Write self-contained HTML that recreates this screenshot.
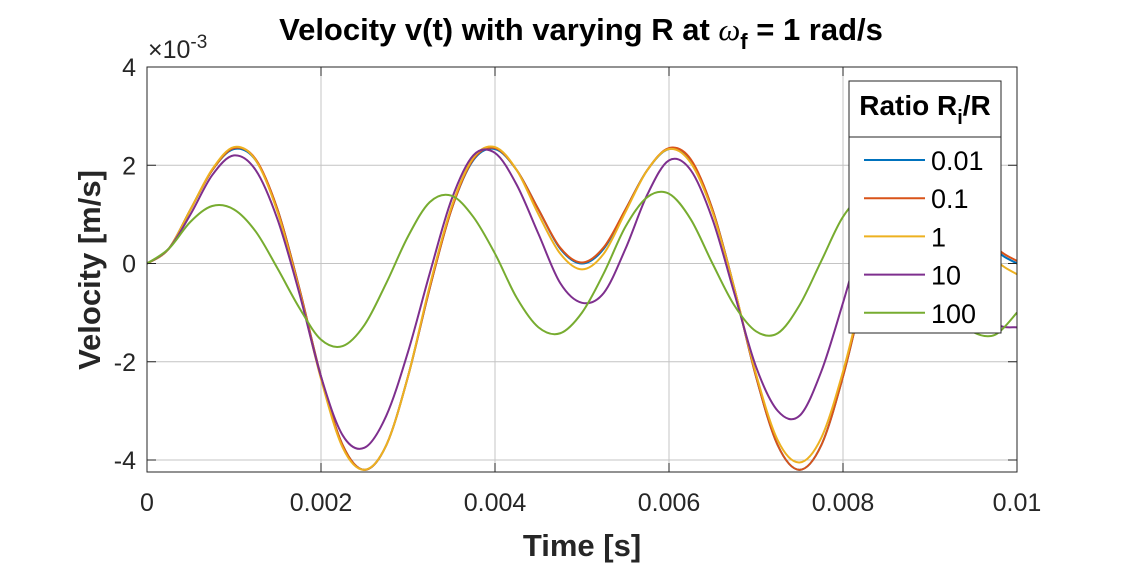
<!DOCTYPE html>
<html><head><meta charset="utf-8"><style>
body{margin:0;background:#fff;}
svg text{font-family:"Liberation Sans",Arial,sans-serif;}
</style></head><body>
<svg id="chart" width="1125" height="563" xmlns="http://www.w3.org/2000/svg">
<rect width="1125" height="563" fill="#fff"/>
<g id="grid"></g>
<g id="series"></g>
<rect x="147" y="67" width="870" height="405" fill="none" stroke="#262626" stroke-width="1"/>
<g id="ticks"></g>
<text x="581" y="40" text-anchor="middle" font-size="31" font-weight="bold" fill="#000">Velocity v(t) with varying R at <tspan font-style="italic" font-weight="normal" font-family="Liberation Serif">ω</tspan><tspan font-size="22" dy="9">f</tspan><tspan dy="-9"> = 1 rad/s</tspan></text>
<text x="148" y="58" font-size="25" fill="#262626">×10<tspan font-size="19" dy="-10">-3</tspan></text>
<text x="582" y="556" text-anchor="middle" font-size="31" font-weight="bold" fill="#262626">Time [s]</text>
<text transform="translate(100,270) rotate(-90)" text-anchor="middle" font-size="31" font-weight="bold" fill="#262626">Velocity [m/s]</text>
<g>
<rect x="849" y="81" width="152" height="252" fill="#fff" stroke="#262626" stroke-width="1"/>
<line x1="849" y1="137" x2="1001" y2="137" stroke="#262626" stroke-width="1"/>
<text x="925" y="115" text-anchor="middle" font-size="28" font-weight="bold" fill="#000">Ratio R<tspan font-size="20" dy="9">i</tspan><tspan dy="-9">/R</tspan></text>
<g id="legend-entries"></g>
</g>
</svg>
<script>
const times=[0,.00025,.0005,.00075,.001,.00125,.0015,.00175,.002,.00225,.0025,.00275,.003,.00325,.0035,.00375,.004,.00425,.0045,.00475,.005,.00525,.0055,.00575,.006,.00625,.0065,.00675,.007,.00725,.0075,.00775,.008,.00825,.0085,.00875,.009,.00925,.0095,.00975,.01];
const labels=["0.01","0.1","1","10","100"];
const colors=["#0072BD","#D95319","#EDB120","#7E2F8E","#77AC30"];
const v001=[0,0.3,1.1,1.9,2.33,2.1,1.1,-0.5,-2.3,-3.7,-4.2,-3.7,-2.3,-0.5,1.1,2.1,2.33,1.9,1.1,0.3,0,0.3,1.1,1.9,2.33,2.1,1.1,-0.5,-2.3,-3.7,-4.2,-3.7,-2.3,-0.5,1.1,2.1,2.33,1.9,1.1,0.3,0];
const v01=[0,0.3,1.1,1.9,2.35,2.12,1.1,-0.5,-2.3,-3.7,-4.2,-3.7,-2.3,-0.5,1.1,2.12,2.35,1.9,1.1,0.32,0.02,0.33,1.1,1.9,2.35,2.12,1.1,-0.5,-2.3,-3.7,-4.2,-3.7,-2.3,-0.5,1.1,2.12,2.35,1.9,1.1,0.35,0.05];
const v1=[0,0.3,1.1,1.92,2.37,2.1,1.05,-0.55,-2.35,-3.75,-4.2,-3.7,-2.3,-0.45,1.15,2.15,2.37,1.9,1.0,0.2,-0.12,0.2,1.05,1.9,2.33,2.05,1.05,-0.5,-2.25,-3.6,-4.05,-3.55,-2.2,-0.45,1.1,2.05,2.3,1.8,0.95,0.1,-0.22];
const v10=[0,0.3,1.0,1.8,2.2,1.9,0.9,-0.6,-2.3,-3.5,-3.75,-3.1,-1.8,-0.2,1.3,2.2,2.25,1.6,0.6,-0.4,-0.8,-0.6,0.3,1.4,2.1,1.9,0.9,-0.6,-2.1,-3.0,-3.1,-2.2,-0.8,0.7,1.7,2.0,1.6,0.7,-0.4,-1.2,-1.3];
const v100=[0,0.3,0.85,1.17,1.1,0.65,-0.1,-0.9,-1.55,-1.68,-1.25,-0.4,0.55,1.25,1.38,0.95,0.2,-0.7,-1.3,-1.42,-1.0,-0.2,0.75,1.35,1.42,0.9,0,-0.85,-1.38,-1.42,-0.85,0.05,0.95,1.4,1.3,0.7,-0.2,-1.0,-1.4,-1.45,-1.0];
const xTicks=[0,0.002,0.004,0.006,0.008,0.01];
const xTickLabels=["0","0.002","0.004","0.006","0.008","0.01"];
const yTicks=[-4,-2,0,2,4];
const yTickLabels=["-4","-2","0","2","4"];
const series=[v001,v01,v1,v10,v100];

const X0=147,X1=1017,XMIN=0,XMAX=0.01;
const YT=67,YMAX=4,PX=49.125;
const xs=t=>X0+(t-XMIN)/(XMAX-XMIN)*(X1-X0);
const ys=v=>YT+(YMAX-v)*PX;
const NS="http://www.w3.org/2000/svg";
function mk(tag,attrs,parent){const e=document.createElementNS(NS,tag);for(const k in attrs)e.setAttribute(k,attrs[k]);parent.appendChild(e);return e;}
const grid=document.getElementById('grid'),ticks=document.getElementById('ticks');
xTicks.forEach((t,i)=>{
  const x=xs(t);
  const g=mk('line',{x1:x,y1:67,x2:x,y2:472,stroke:'#c4c4c4','stroke-width':1},grid);
  
  
  mk('line',{x1:x,y1:472,x2:x,y2:463,stroke:'#262626'},ticks);
  mk('line',{x1:x,y1:67,x2:x,y2:76,stroke:'#262626'},ticks);
  const tx=mk('text',{x:x,y:511,'text-anchor':'middle','font-size':25,fill:'#262626'},ticks);
  tx.textContent=xTickLabels[i];
  
  
});
yTicks.forEach((v,i)=>{
  const y=ys(v);
  const g=mk('line',{x1:147,y1:y,x2:1017,y2:y,stroke:'#c4c4c4','stroke-width':1},grid);
  
  
  mk('line',{x1:147,y1:y,x2:156,y2:y,stroke:'#262626'},ticks);
  mk('line',{x1:1017,y1:y,x2:1008,y2:y,stroke:'#262626'},ticks);
  const tx=mk('text',{x:136,y:y+9,'text-anchor':'end','font-size':25,fill:'#262626'},ticks);
  tx.textContent=yTickLabels[i];
  
  
});
function smooth(pts){
  let d='M'+pts[0][0]+','+pts[0][1];
  for(let i=0;i<pts.length-1;i++){
    const p0=pts[Math.max(0,i-1)],p1=pts[i],p2=pts[i+1],p3=pts[Math.min(pts.length-1,i+2)];
    const c1=[p1[0]+(p2[0]-p0[0])/6,p1[1]+(p2[1]-p0[1])/6],c2=[p2[0]-(p3[0]-p1[0])/6,p2[1]-(p3[1]-p1[1])/6];
    d+=' C'+c1[0]+','+c1[1]+' '+c2[0]+','+c2[1]+' '+p2[0]+','+p2[1];
  }
  return d;
}
const sg=document.getElementById('series');
series.forEach((vals,k)=>{
  const pts=times.map((t,i)=>[xs(t),ys(vals[i])]);
  const p=mk('path',{d:smooth(pts),fill:'none',stroke:colors[k],'stroke-width':2},sg);
  
  
});
const le=document.getElementById('legend-entries');
labels.forEach((l,k)=>{
  const y=160+k*38.2;
  const g=mk('g',{},le);
  
  
  mk('line',{x1:864,y1:y,x2:925,y2:y,stroke:colors[k],'stroke-width':2},g);
  const t=mk('text',{x:931,y:y+10,'font-size':27,fill:'#000'},g);
  t.textContent=l;
});
</script>
</body></html>
